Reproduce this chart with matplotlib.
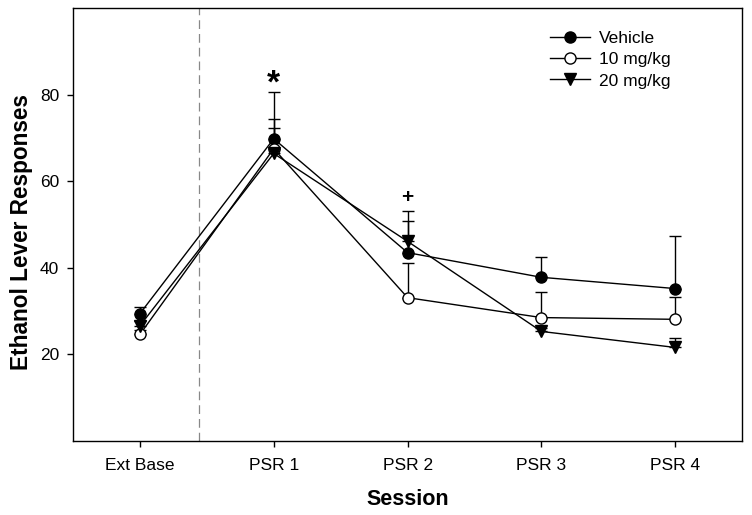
import numpy as np
import matplotlib
matplotlib.use("Agg")
import matplotlib.pyplot as plt

plt.rcParams['font.family'] = ['Liberation Sans', 'DejaVu Sans']

# data
sessions = ["Ext Base", "PSR 1", "PSR 2", "PSR 3", "PSR 4"]
vehicle = [29.4, 69.8, 43.5, 37.8, 35.2]
vehicle_se = [1.6, 10.8, 9.7, 4.8, 12.2]
mg10 = [24.6, 67.5, 33.1, 28.5, 28.1]
mg10_se = [1.0, 6.9, 7.9, 5.8, 5.2]
mg20 = [26.6, 66.4, 46.1, 25.3, 21.6]
mg20_se = [1.0, 5.9, 4.8, 0.8, 2.1]

x = np.arange(len(sessions))

fig = plt.figure(figsize=(7.52, 5.15), dpi=100)
ax = fig.add_axes([0.097, 0.1437, 0.89, 0.8408])

groups = [
    ("Vehicle", vehicle, vehicle_se, dict(marker='o', mfc='k')),
    ("10 mg/kg", mg10, mg10_se, dict(marker='o', mfc='white')),
    ("20 mg/kg", mg20, mg20_se, dict(marker='v', mfc='k')),
]

for label, y, se, style in groups:
    ax.errorbar(x, y, yerr=[np.zeros(len(y)), se], fmt='none', ecolor='k',
                elinewidth=1, capsize=4.5, capthick=1, zorder=1)
    ax.plot(x, y, color='k', lw=1, mec='k', ms=8, mew=1, label=label,
            zorder=3, **style)

# separator between baseline and test sessions
ax.axvline(0.44, color='#888888', lw=0.9, ls=(0, (7, 4)), zorder=0)

# significance marks
ax.text(1, 82.5, "*", ha='center', va='center', fontsize=24, fontweight='bold')
ax.text(2, 56.2, "+", ha='center', va='center', fontsize=15, fontweight='bold')

ax.set_xlim(-0.5, 4.5)
ax.set_ylim(0, 100)
ax.set_xticks(x)
ax.set_xticklabels(sessions)
ax.set_yticks([20, 40, 60, 80])
ax.tick_params(direction='out', length=4, width=1, labelsize=12.5, pad=6)
ax.tick_params(axis='x', pad=8)

for s in ax.spines.values():
    s.set_linewidth(1)

ax.set_xlabel("Session", fontsize=15.5, fontweight='bold', labelpad=12)
ax.set_ylabel("Ethanol Lever Responses", fontsize=16.3, fontweight='bold')
ax.yaxis.set_label_coords(-0.06, 0.4835)

ax.legend(loc='upper left', bbox_to_anchor=(0.7025, 0.963), frameon=False,
          fontsize=12.5, handlelength=2.3, handletextpad=0.5, labelspacing=0.35,
          borderaxespad=0)

fig.savefig("out.png", dpi=100)
